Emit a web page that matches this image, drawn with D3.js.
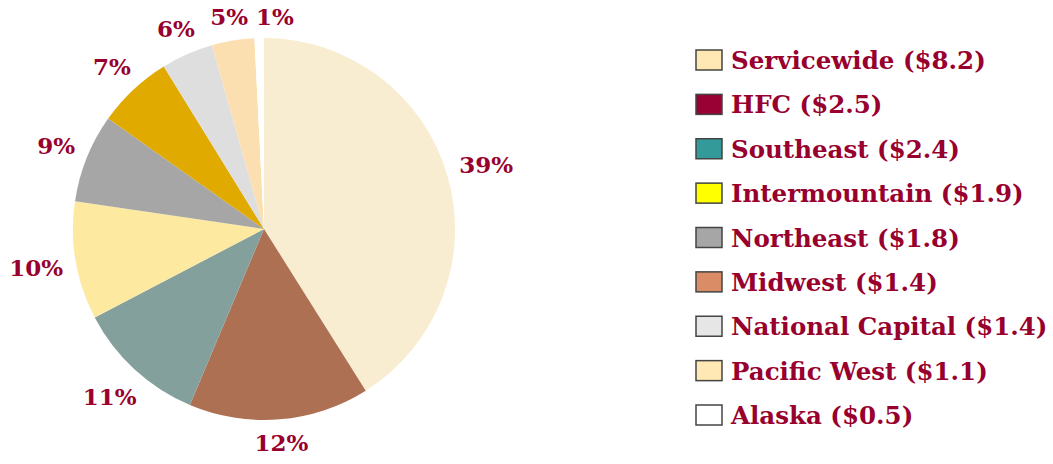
<!DOCTYPE html>
<html>
<head>
<meta charset="utf-8">
<script src="https://cdn.jsdelivr.net/npm/d3@7"></script>
<style>
  body { margin: 0; background: #fff; }
  svg text { font-family: "DejaVu Serif", serif; font-weight: bold; fill: #98002e; }
</style>
</head>
<body>
<svg id="chart" width="1053" height="464"></svg>
<script>
// slice shares as drawn and the printed labels
const sliceShares = [41.1, 15.3, 11.0, 10.0, 7.5, 6.4, 4.4, 3.6, 0.8];
const sliceLabels = ['39%', '12%', '11%', '10%', '9%', '7%', '6%', '5%', '1%'];
const sliceColors = ['#f9edd1', '#ad7052', '#84a09d', '#fde9a0', '#a6a6a6', '#e0aa00', '#dedede', '#fbdfb0', '#ffffff'];

// legend
const regions = ['Servicewide', 'HFC', 'Southeast', 'Intermountain', 'Northeast', 'Midwest', 'National Capital', 'Pacific West', 'Alaska'];
const amounts = [8.2, 2.5, 2.4, 1.9, 1.8, 1.4, 1.4, 1.1, 0.5];
const legendColors = ['#ffe8b3', '#990033', '#339999', '#ffff00', '#a6a6a6', '#d98c66', '#e6e6e6', '#ffe8b3', '#ffffff'];

const svg = d3.select('#chart');
const cx = 264, cy = 229, r = 191;

const pie = d3.pie().sort(null).value(d => d)(sliceShares);
const arc = d3.arc().innerRadius(0).outerRadius(r);

const g = svg.append('g').attr('transform', `translate(${cx},${cy})`);

g.selectAll('path')
    .data(pie)
  .enter().append('path')
    .attr('d', arc)
    .attr('fill', (d, i) => sliceColors[i]);

// labels pushed out from the rim by half their box
const labels = g.selectAll('text.pct')
    .data(pie)
  .enter().append('text')
    .attr('class', 'pct')
    .attr('font-size', 23)
    .attr('text-anchor', 'middle')
    .attr('dominant-baseline', 'central')
    .text((d, i) => sliceLabels[i]);

let prevRight = null;
labels.each(function (d, i) {
  const w = this.getComputedTextLength();
  const a = (d.startAngle + d.endAngle) / 2;
  const dist = r + 12 + Math.abs(Math.sin(a)) * w / 2 + Math.abs(Math.cos(a)) * 9;
  let x = Math.sin(a) * dist;
  const y = -Math.cos(a) * dist;
  // small slices near the top: don't let a label run into the one before it
  if (i > 0 && a > 5.5 && prevRight !== null && x - w / 2 < prevRight + 8) {
    x = prevRight + 8 + w / 2;
  }
  prevRight = x + w / 2;
  d3.select(this).attr('x', x).attr('y', y);
});

// legend
const ly = d3.scalePoint().domain(regions).range([50, 405]);

const legend = svg.append('g');

legend.selectAll('rect')
    .data(regions)
  .enter().append('rect')
    .attr('x', 696)
    .attr('y', d => ly(d))
    .attr('width', 26)
    .attr('height', 20)
    .attr('fill', (d, i) => legendColors[i])
    .attr('stroke', '#444')
    .attr('stroke-width', 1.5);

legend.selectAll('text')
    .data(regions)
  .enter().append('text')
    .attr('x', 731)
    .attr('y', d => ly(d) + 19)
    .attr('font-size', 24.5)
    .text((d, i) => `${d} ($${amounts[i].toFixed(1)})`);
</script>
</body>
</html>
